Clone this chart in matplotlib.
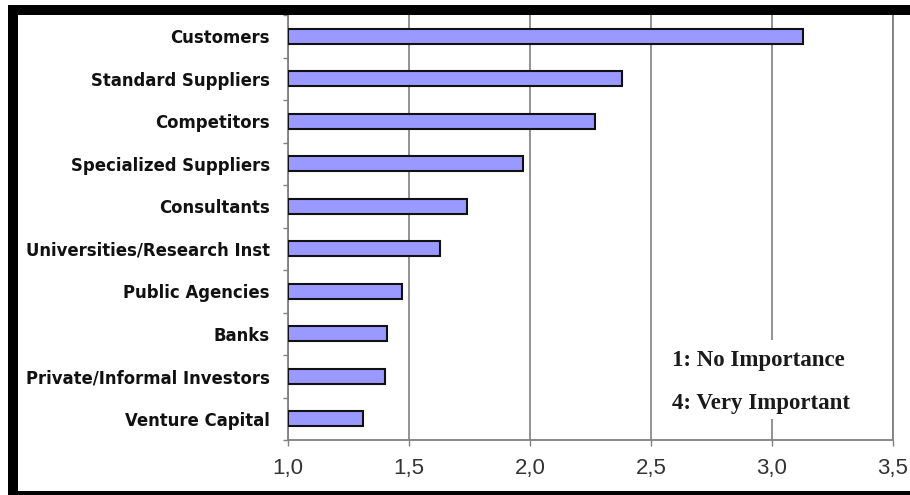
import matplotlib.pyplot as plt
from matplotlib.patches import Rectangle
import numpy as np

# Mean importance of information sources (1 = no importance, 4 = very important)
sources = ["Customers", "Standard Suppliers", "Competitors", "Specialized Suppliers",
           "Consultants", "Universities/Research Inst", "Public Agencies", "Banks",
           "Private/Informal Investors", "Venture Capital"]
scores = [3.13, 2.38, 2.27, 1.97, 1.74, 1.63, 1.47, 1.41, 1.40, 1.31]
xticks = [1.0, 1.5, 2.0, 2.5, 3.0, 3.5]
xtick_labels = ["1,0", "1,5", "2,0", "2,5", "3,0", "3,5"]

fig = plt.figure(figsize=(9.1, 4.95), dpi=100)
ax = fig.add_axes([288 / 910, 55 / 495, 605 / 910, 425 / 495])

ypos = np.arange(len(sources))
# bars start at the left edge of the scale (1.0)
ax.barh(ypos, np.array(scores) - 1.0, left=1.0, height=0.36,
        color="#9999FF", edgecolor="#111111", linewidth=1.5, zorder=3)

ax.set_xlim(1.0, 3.5)
ax.set_ylim(len(sources) - 0.5, -0.5)

ax.set_xticks(xticks)
ax.set_xticklabels(xtick_labels, fontsize=16, family="Liberation Sans", color="#333333")
ax.set_yticks(ypos)
ax.set_yticklabels(sources, fontsize=11.9, fontweight="bold", family="DejaVu Sans", color="#111111")
ax.set_yticks(np.arange(len(sources) + 1) - 0.5, minor=True)

ax.tick_params(axis="y", which="major", length=0, pad=13)
ax.tick_params(axis="y", which="minor", length=3.5, width=1, color="#808080")
ax.tick_params(axis="x", length=4, width=1, color="#808080", pad=9)

ax.xaxis.grid(True, color="#808080", linewidth=1.2)
ax.set_axisbelow(True)
for side in ["left", "bottom", "right"]:
    ax.spines[side].set_color("#808080")
    ax.spines[side].set_linewidth(1.3)
ax.spines["top"].set_visible(False)

# scale note in the lower right corner
ax.add_patch(Rectangle((0.615, 0.049), 0.339, 0.186, transform=ax.transAxes,
                       facecolor="white", edgecolor="none", zorder=4))
ax.text(0.635, 0.186, "1: No Importance", transform=ax.transAxes, fontsize=16.5,
        fontweight="bold", family="Liberation Serif", va="center", ha="left", zorder=5,
        color="#1a1a1a")
ax.text(0.635, 0.085, "4: Very Important", transform=ax.transAxes, fontsize=16.5,
        fontweight="bold", family="Liberation Serif", va="center", ha="left", zorder=5,
        color="#1a1a1a")

# thick black frame around the chart
fig.patches.append(Rectangle((13 / 910, -1 / 495), 902 / 910, 486 / 495,
                             transform=fig.transFigure, fill=False,
                             edgecolor="black", linewidth=7.2, zorder=10))

fig.savefig("out.png", dpi=100)
